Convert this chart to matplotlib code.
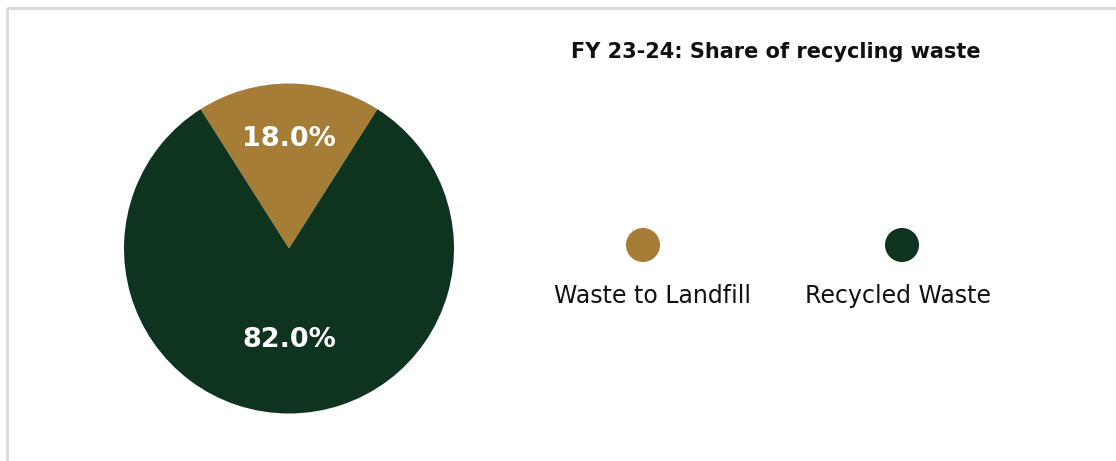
import matplotlib
matplotlib.use("Agg")
import matplotlib.pyplot as plt
from matplotlib.lines import Line2D
import numpy as np

categories = ["Waste to Landfill", "Recycled Waste"]
shares = [18.0, 82.0]
colors = ["#A67D37", "#0E331E"]
title = "FY 23-24: Share of recycling waste"

W, H = 1116, 461
fig = plt.figure(figsize=(W / 100, H / 100), dpi=100)
fig.patch.set_facecolor("white")

# border (top and left only)
fig.add_artist(Line2D([7 / W, 1.0], [1 - 8 / H, 1 - 8 / H], transform=fig.transFigure,
                      color="#dcdcdc", lw=2.2, solid_capstyle="butt"))
fig.add_artist(Line2D([7 / W, 7 / W], [0, 1 - 8 / H], transform=fig.transFigure,
                      color="#dcdcdc", lw=2.2, solid_capstyle="butt"))

# pie axes
cx, cy, r = 289, 248.5, 165
ax = fig.add_axes([(cx - r) / W, 1 - (cy + r) / H, 2 * r / W, 2 * r / H])
start = 90 - shares[0] / 100 * 360 / 2
wedges, _ = ax.pie(shares, colors=colors, startangle=start, counterclock=True,
                   radius=1.0, wedgeprops=dict(linewidth=0))
ax.set_xlim(-1, 1)
ax.set_ylim(-1, 1)
ax.set_aspect("auto")
ax.axis("off")

dists = [0.665, 0.555]
for w, v, d in zip(wedges, shares, dists):
    mid = np.deg2rad((w.theta1 + w.theta2) / 2)
    ax.text(d * np.cos(mid), d * np.sin(mid), f"{v:.1f}%", ha="center", va="center",
            color="white", fontsize=19.5, fontweight="bold", family="DejaVu Sans")

# title
fig.text(776 / W, 1 - 51.5 / H, title, ha="center", va="center",
         fontsize=15, fontweight="bold", family="DejaVu Sans", color="#111111")

# legend
lax = fig.add_axes([0, 0, 1, 1])
lax.set_xlim(0, W)
lax.set_ylim(H, 0)
lax.axis("off")
leg_x = [643, 902]
label_x = [653, 898]
for x, lx, c, lab in zip(leg_x, label_x, colors, categories):
    lax.scatter([x], [245], s=34 ** 2 * 0.52, color=c, edgecolors="none")
    lax.text(lx, 295.5, lab, ha="center", va="center",
             fontsize=17, family="DejaVu Sans", color="#111111")

fig.savefig("out.png", dpi=100, facecolor="white")
